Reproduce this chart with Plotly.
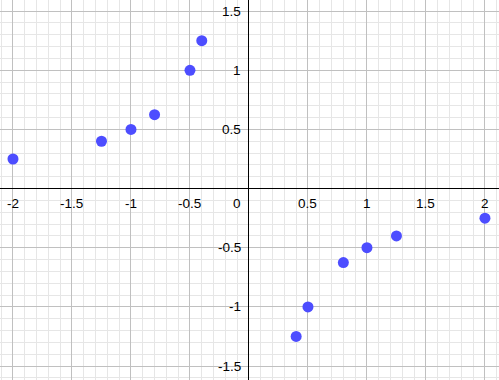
import plotly.graph_objects as go

# data
x_vals = [-2, -1.25, -1, -0.8, -0.5, -0.4, 0.4, 0.5, 0.8, 1, 1.25, 2]
y_vals = [0.25, 0.4, 0.5, 0.625, 1, 1.25, -1.25, -1, -0.625, -0.5, -0.4, -0.25]

x_ticks = [-2, -1.5, -1, -0.5, 0.5, 1, 1.5, 2]
x_tick_labels = ["-2", "-1.5", "-1", "-0.5", "0.5", "1", "1.5", "2"]
y_ticks = [1.5, 1, 0.5, -0.5, -1, -1.5]
y_tick_labels = ["1.5", "1", "0.5", "-0.5", "-1", "-1.5"]

FONT = dict(family="Liberation Sans, Arial, sans-serif", size=13.5, color="#000000")

fig = go.Figure()
fig.add_trace(go.Scatter(
    x=x_vals, y=y_vals, mode="markers",
    marker=dict(size=11, color="#4d4dff", line=dict(width=0)),
    hoverinfo="skip", showlegend=False,
))

annotations = []
for v, t in zip(x_ticks, x_tick_labels):
    annotations.append(dict(x=v, y=0, xref="x", yref="y", text=t, showarrow=False,
                            xanchor="center", yanchor="top", yshift=-5, font=FONT))
for v, t in zip(y_ticks, y_tick_labels):
    annotations.append(dict(x=0, y=v, xref="x", yref="y", text=t, showarrow=False,
                            xanchor="right", yanchor="middle", xshift=-6, font=FONT))
annotations.append(dict(x=0, y=0, xref="x", yref="y", text="0", showarrow=False,
                        xanchor="right", yanchor="top", xshift=-6, yshift=-5, font=FONT))

axis_common = dict(
    showticklabels=False, ticks="", showline=False,
    showgrid=True, gridcolor="#c0c0c0", gridwidth=1, dtick=0.5, tick0=0,
    minor=dict(showgrid=True, dtick=0.1, tick0=0, gridcolor="#e6e6e6", gridwidth=1),
    zeroline=True, zerolinecolor="#000000", zerolinewidth=1.3, fixedrange=True,
)

fig.update_layout(
    width=499, height=380, autosize=False,
    margin=dict(l=0, r=0, t=0, b=0),
    paper_bgcolor="white", plot_bgcolor="white",
    xaxis=dict(range=[-2.110, 2.119], **axis_common),
    yaxis=dict(range=[-1.618, 1.594], **axis_common),
    annotations=annotations,
)

fig.write_html("out.html", config={"displayModeBar": False})
